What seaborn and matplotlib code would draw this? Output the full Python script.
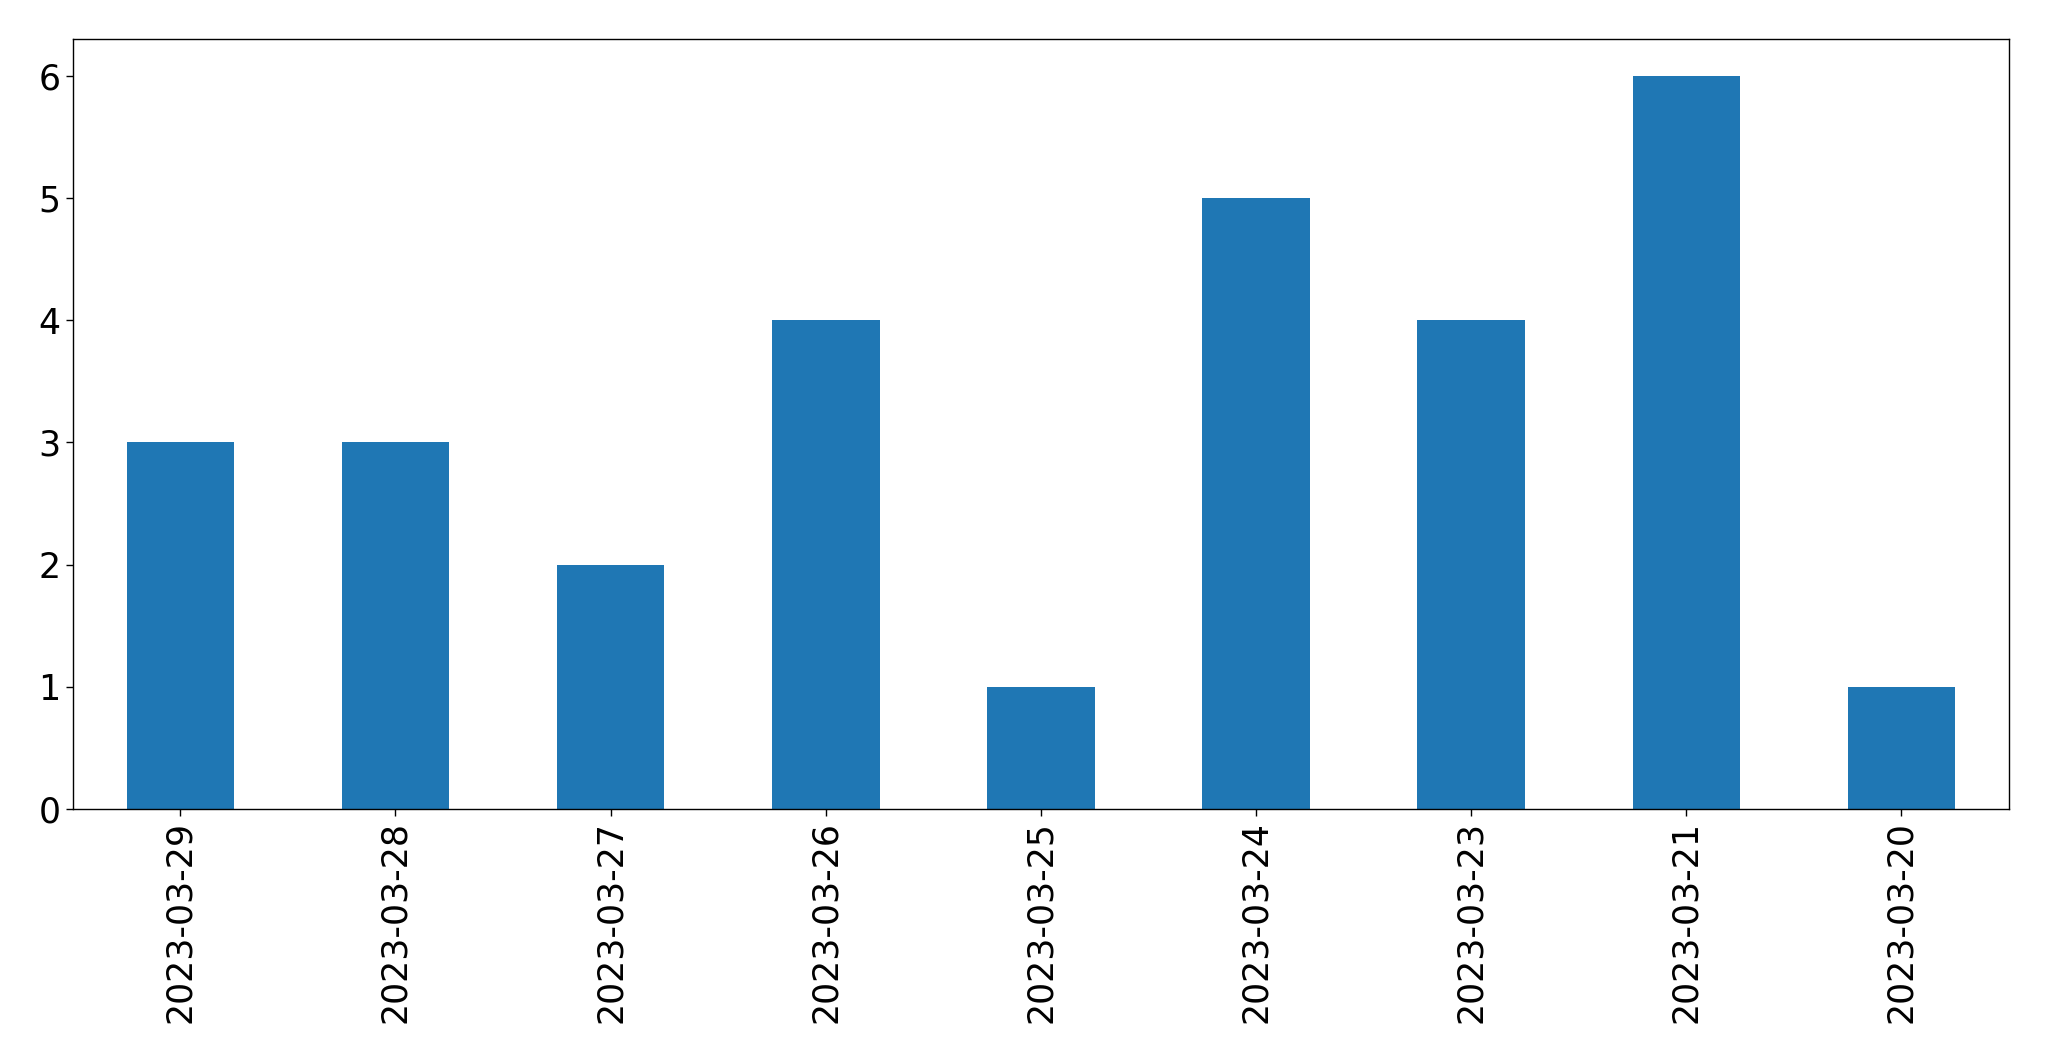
import pandas as pd
import matplotlib.pyplot as plt
import seaborn as sns

dates = ['2023-03-29', '2023-03-28', '2023-03-27', '2023-03-26', '2023-03-25',
         '2023-03-24', '2023-03-23', '2023-03-21', '2023-03-20']
counts = [3, 3, 2, 4, 1, 5, 4, 6, 1]

df = pd.DataFrame({'date': dates, 'count': counts})

sns.set_style('white')
plt.rcParams['font.family'] = ['DejaVu Sans']

fig, ax = plt.subplots(figsize=(20.49, 10.61), dpi=100)
fig.subplots_adjust(left=0.0355, right=0.9805, top=0.963, bottom=0.2375)

sns.barplot(x='date', y='count', data=df, order=dates, color='#1f77b4',
            saturation=1, width=0.5, linewidth=0, ax=ax)

ax.set_xlim(-0.5, len(dates) - 0.5)
ax.set_ylim(0, 6.3)
ax.set_xlabel('')
ax.set_ylabel('')
ax.tick_params(axis='both', labelsize=25, length=5.3, width=1, color='black',
               labelcolor='black', bottom=True, left=True)
ax.tick_params(axis='x', labelrotation=90)
for s in ax.spines.values():
    s.set_color('black')
    s.set_linewidth(1)

fig.savefig('out.png', dpi=100)
